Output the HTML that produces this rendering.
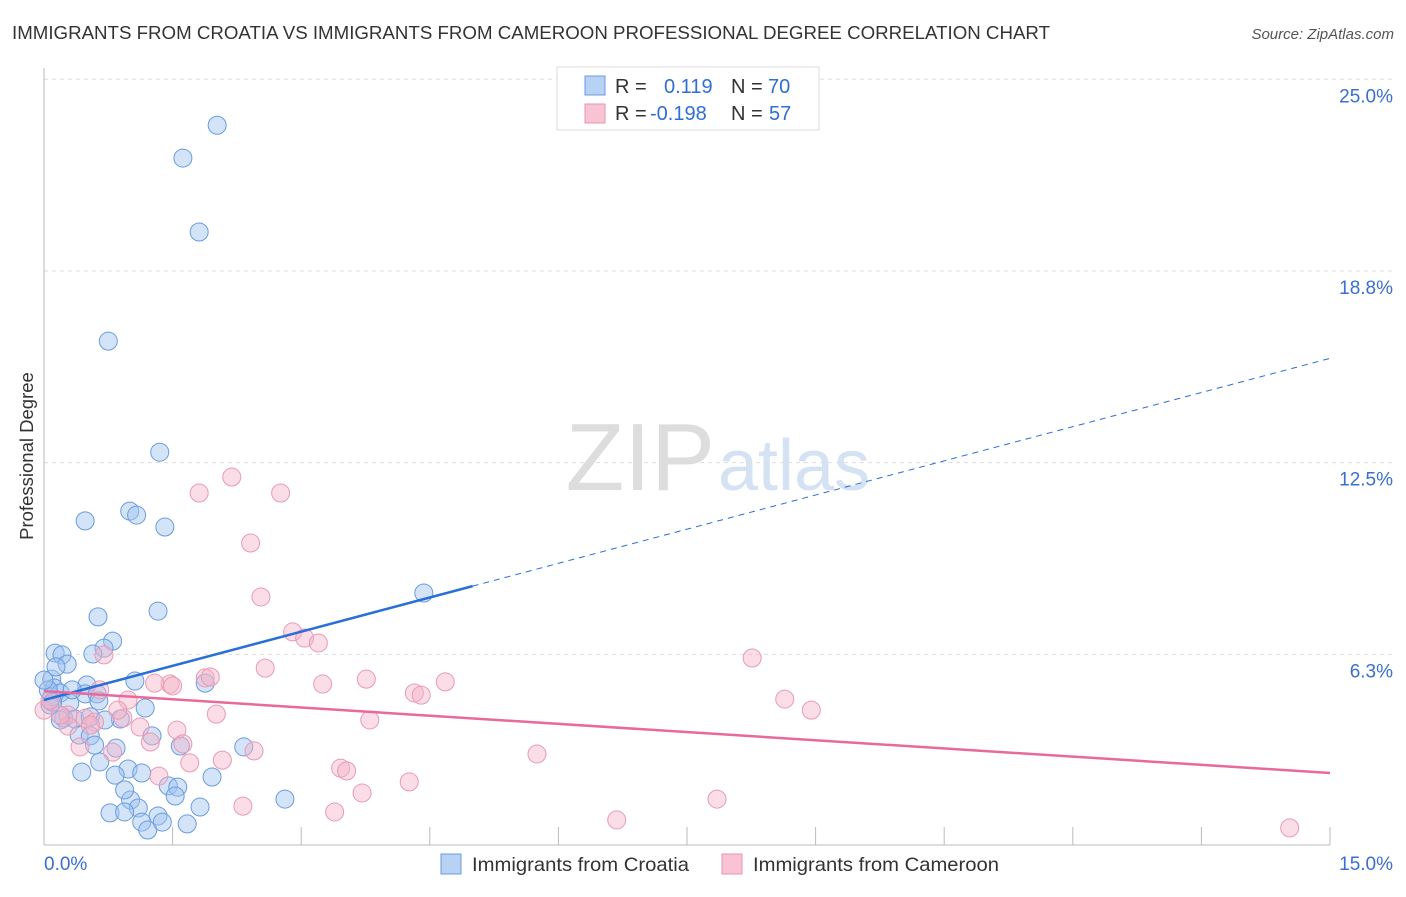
<!DOCTYPE html>
<html><head><meta charset="utf-8">
<style>
body{margin:0;background:#fff;font-family:"Liberation Sans",sans-serif;}
svg text{font-family:"Liberation Sans",sans-serif;}
</style></head>
<body>
<svg id="chart" width="1406" height="892" viewBox="0 0 1406 892" xmlns="http://www.w3.org/2000/svg">
<text x="12" y="39" font-size="18" fill="#333" textLength="1038" lengthAdjust="spacingAndGlyphs">IMMIGRANTS FROM CROATIA VS IMMIGRANTS FROM CAMEROON PROFESSIONAL DEGREE CORRELATION CHART</text>
<text x="1394" y="39" font-size="15" fill="#555" font-style="italic" text-anchor="end">Source: ZipAtlas.com</text>
<text x="33" y="456" font-size="18.5" fill="#333" text-anchor="middle" transform="rotate(-90 33 456)">Professional Degree</text>
<text x="715" y="490" font-size="96" fill="#ddd" text-anchor="end" font-family="Liberation Serif">ZIP</text>
<text x="718" y="490" font-size="72" fill="#d4e2f4">atlas</text>
<g id="grid"></g><g id="axes"></g><g id="pts"></g><g id="lines"></g>
<rect x="557" y="67" width="262" height="63" fill="#fff" stroke="#ddd"/>
<rect x="585" y="76" width="20" height="19" fill="#b8d2f5" stroke="#6a9be0"/>
<rect x="585" y="104" width="20" height="19" fill="#f8c4d4" stroke="#e893b0"/>
<text x="615" y="93" font-size="20" fill="#333">R = <tspan fill="#2f6fd3" x="664">0.119</tspan><tspan x="731" fill="#333">N = </tspan><tspan fill="#2f6fd3" x="768">70</tspan></text>
<text x="615" y="120" font-size="20" fill="#333">R = <tspan fill="#2f6fd3" x="650">-0.198</tspan><tspan x="731" fill="#333">N = </tspan><tspan fill="#2f6fd3" x="769">57</tspan></text>
<rect x="441" y="854" width="20" height="20" fill="#b8d2f5" stroke="#6a9be0"/>
<text x="472" y="871" font-size="19.5" fill="#333" textLength="217" lengthAdjust="spacingAndGlyphs">Immigrants from Croatia</text>
<rect x="722" y="854" width="20" height="20" fill="#f8c4d4" stroke="#e893b0"/>
<text x="753" y="871" font-size="19.5" fill="#333" textLength="246" lengthAdjust="spacingAndGlyphs">Immigrants from Cameroon</text>
</svg>
<script>
const blueX=[2.02,1.62,1.81,0.75,1.35,0.48,1.00,1.08,1.41,4.43,0.63,1.33,0.80,0.70,0.57,0.13,0.21,0.27,0.09,0.12,0.50,1.06,1.88,0.09,0.19,0.48,0.62,0.30,0.64,1.18,0.23,0.36,0.54,0.89,0.41,0.54,1.26,1.59,0.84,2.33,0.65,0.98,0.44,0.83,1.14,1.96,1.45,1.56,1.53,1.01,2.81,1.10,1.82,0.77,0.94,1.33,1.14,1.67,1.21,1.38,0.05,0.07,0.0,0.19,0.33,0.71,0.94,0.59,0.14,0.10];
const blueY=[23.5,22.43,20.02,16.46,12.84,10.6,10.92,10.79,10.4,8.25,7.47,7.66,6.68,6.45,6.26,6.29,6.23,5.93,5.44,5.15,5.25,5.38,5.31,4.86,4.99,4.96,4.96,4.66,4.73,4.50,4.17,4.14,4.21,4.14,3.62,3.59,3.59,3.26,3.19,3.23,2.74,2.51,2.41,2.31,2.38,2.25,1.96,1.92,1.63,1.50,1.53,1.24,1.27,1.08,1.11,0.98,0.78,0.72,0.52,0.78,5.09,4.60,5.41,4.11,5.09,4.11,1.83,3.29,5.84,4.69];
const pinkX=[2.19,2.76,1.81,2.41,2.53,2.90,3.04,3.20,0.70,8.26,2.58,1.88,1.94,1.47,1.29,1.50,3.25,3.76,4.68,4.32,4.40,8.64,8.95,0.98,2.01,3.80,0.0,0.07,0.28,0.28,0.48,0.59,0.92,0.86,1.12,1.55,1.24,1.62,0.42,0.80,2.45,1.70,2.08,1.34,3.46,3.53,5.75,4.26,3.71,2.32,3.39,7.85,6.68,14.53,0.54,0.19,0.65];
const pinkY=[12.03,11.51,11.51,9.88,8.12,6.98,6.78,6.62,6.23,6.13,5.80,5.48,5.51,5.28,5.31,5.22,5.28,5.44,5.35,4.99,4.92,4.79,4.43,4.76,4.30,4.11,4.43,4.76,4.27,3.91,4.17,4.04,4.17,4.43,3.88,3.78,3.39,3.33,3.23,3.06,3.10,2.71,2.80,2.28,2.54,2.45,3.00,2.09,1.73,1.30,1.11,1.53,0.85,0.59,3.94,4.27,5.09];
const yTicks=[6.25,12.5,18.75,25];
const yTickLabels=["6.3%","12.5%","18.8%","25.0%"];
const blueTrend=[4.76,15.9];
const pinkTrend=[5.05,2.38];
const blueSolidEnd=5.0;
const X=v=>44+v*(1286/15);
const Y=v=>846-v*30.67;
const NS="http://www.w3.org/2000/svg";
function mk(tag,attrs,parent){const e=document.createElementNS(NS,tag);for(const k in attrs)e.setAttribute(k,attrs[k]);document.getElementById(parent).appendChild(e);return e;}
yTicks.forEach((t,i)=>{
  const l=mk('line',{x1:44,x2:1393,y1:Y(t),y2:Y(t),stroke:'#ddd','stroke-dasharray':'4,4'},'grid');
  
  
  const tx=mk('text',{x:1393,y:Y(t)+23,'font-size':19,fill:'#3a6fd0','text-anchor':'end'},'grid');
  tx.textContent=yTickLabels[i];
  
  
});
let a=mk('line',{x1:44,x2:44,y1:68,y2:845,stroke:'#bbb'},'axes');


a=mk('line',{x1:44,x2:1330,y1:845,y2:845,stroke:'#bbb'},'axes');


for(let i=1;i<=10;i++){
  const t=mk('line',{x1:X(i*1.5),x2:X(i*1.5),y1:827,y2:845,stroke:'#bbb'},'axes');
  
  
}
let xl=mk('text',{x:44,y:870,'font-size':19,fill:'#3a6fd0'},'axes');xl.textContent='0.0%';


xl=mk('text',{x:1393,y:870,'font-size':19,fill:'#3a6fd0','text-anchor':'end'},'axes');xl.textContent='15.0%';


blueX.forEach((v,i)=>{
  const c=mk('circle',{cx:X(v),cy:Y(blueY[i]),r:9,fill:'rgba(160,195,240,0.45)',stroke:'#6a9be0','stroke-width':1},'pts');
  
  
});
pinkX.forEach((v,i)=>{
  const c=mk('circle',{cx:X(v),cy:Y(pinkY[i]),r:9,fill:'rgba(245,180,200,0.45)',stroke:'#e99ab5','stroke-width':1},'pts');
  
  
});
const bAt=x=>blueTrend[0]+(blueTrend[1]-blueTrend[0])*x/15;
let ln=mk('line',{x1:X(0),y1:Y(bAt(0)),x2:X(blueSolidEnd),y2:Y(bAt(blueSolidEnd)),stroke:'#2a6fd6','stroke-width':2.5},'lines');


ln=mk('line',{x1:X(blueSolidEnd),y1:Y(bAt(blueSolidEnd)),x2:X(15),y2:Y(bAt(15)),stroke:'#2a6fd6','stroke-width':1,'stroke-dasharray':'6,5'},'lines');


ln=mk('line',{x1:X(0),y1:Y(pinkTrend[0]),x2:X(15),y2:Y(pinkTrend[1]),stroke:'#e8699a','stroke-width':2.5},'lines');


</script>
</body></html>
